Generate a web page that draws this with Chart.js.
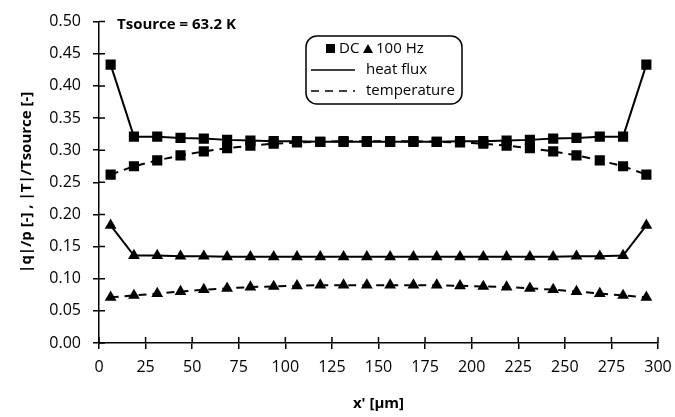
<!DOCTYPE html>
<html>
<head>
<meta charset="utf-8">
<script src="https://cdn.jsdelivr.net/npm/chart.js@4/dist/chart.umd.min.js"></script>
<style>
  html, body { margin: 0; padding: 0; background: #fff; }
  #wrap { width: 675px; height: 417px; }
</style>
</head>
<body>
<div id="wrap"><canvas id="chart" width="675" height="417"></canvas></div>
<script>
// positions along x' [µm]
const xPos = [6.25, 18.75, 31.25, 43.75, 56.25, 68.75, 81.25, 93.75, 106.25, 118.75, 131.25, 143.75,
              156.25, 168.75, 181.25, 193.75, 206.25, 218.75, 231.25, 243.75, 256.25, 268.75, 281.25, 293.75];

const dcHeatFlux = [0.433, 0.321, 0.321, 0.319, 0.318, 0.316, 0.315, 0.314, 0.314, 0.313, 0.313, 0.313,
                    0.313, 0.313, 0.313, 0.314, 0.314, 0.315, 0.316, 0.318, 0.319, 0.321, 0.321, 0.433];
const dcTemp = [0.262, 0.275, 0.284, 0.292, 0.298, 0.303, 0.307, 0.310, 0.312, 0.313, 0.314, 0.314,
                0.314, 0.314, 0.313, 0.312, 0.310, 0.307, 0.303, 0.298, 0.292, 0.284, 0.275, 0.262];
const hzHeatFlux = [0.183, 0.136, 0.136, 0.135, 0.135, 0.134, 0.134, 0.134, 0.134, 0.134, 0.134, 0.134,
                    0.134, 0.134, 0.134, 0.134, 0.134, 0.134, 0.134, 0.134, 0.135, 0.135, 0.136, 0.183];
const hzTemp = [0.071, 0.074, 0.077, 0.080, 0.083, 0.085, 0.087, 0.088, 0.089, 0.090, 0.090, 0.090,
                0.090, 0.090, 0.090, 0.089, 0.088, 0.087, 0.085, 0.083, 0.080, 0.077, 0.074, 0.071];

const yTitle = '|q|/p [-] , |T|/Tsource [-]';
const xTitle = "x' [\u00b5m]";
const noteText = 'Tsource = 63.2 K';

const FONT = "'Open Sans', 'Noto Sans', sans-serif";

function pts(vals) {
    return vals.map((v, i) => ({ x: xPos[i], y: v }));
}

function series(label, vals, shape, dashed) {
    return {
        label: label,
        data: pts(vals),
        borderColor: '#000',
        backgroundColor: '#000',
        borderWidth: 2,
        borderDash: dashed ? [8, 6] : [],
        pointStyle: shape,
        pointRadius: shape == 'rect' ? 7.2 : 6.8,
        pointBorderWidth: 0,
        tension: 0
    };
}

// ticks that cross the axis, legend box and note drawn by hand
const extras = {
    id: 'extras',
    afterDraw(chart) {
        const ctx = chart.ctx;
        const a = chart.chartArea;
        const sx = chart.scales.x, sy = chart.scales.y;
        ctx.save();
        ctx.strokeStyle = '#000';
        ctx.lineWidth = 1.5;
        ctx.beginPath();
        sx.ticks.forEach(t => {
            const px = sx.getPixelForValue(t.value);
            ctx.moveTo(px, a.bottom);
            ctx.lineTo(px, a.bottom - 6);
        });
        sy.ticks.forEach(t => {
            const py = sy.getPixelForValue(t.value);
            ctx.moveTo(a.left, py);
            ctx.lineTo(a.left + 6, py);
        });
        ctx.stroke();

        ctx.fillStyle = '#000';
        ctx.font = 'bold 15px ' + FONT;
        ctx.textBaseline = 'middle';
        ctx.fillText(noteText, 117, 25);

        // box
        ctx.lineWidth = 1.5;
        ctx.beginPath();
        ctx.roundRect(306, 36, 156, 68, 11);
        ctx.stroke();

        ctx.font = '15px ' + FONT;
        // row 1
        ctx.fillRect(326, 44, 9, 9);
        ctx.fillText('DC', 339, 49);
        ctx.beginPath();
        ctx.moveTo(368, 44);
        ctx.lineTo(373, 53);
        ctx.lineTo(363, 53);
        ctx.closePath();
        ctx.fill();
        ctx.fillText('100 Hz', 376, 49);
        // row 2
        ctx.beginPath();
        ctx.moveTo(311, 70);
        ctx.lineTo(355, 70);
        ctx.stroke();
        ctx.fillText('heat flux', 366, 70);
        // row 3
        ctx.setLineDash([8, 6]);
        ctx.beginPath();
        ctx.moveTo(311, 91);
        ctx.lineTo(355, 91);
        ctx.stroke();
        ctx.setLineDash([]);
        ctx.fillText('temperature', 366, 91);
        ctx.restore();
    }
};

new Chart(document.getElementById('chart'), {
    type: 'line',
    data: {
        datasets: [
            series('DC heat flux', dcHeatFlux, 'rect', false),
            series('DC temperature', dcTemp, 'rect', true),
            series('100 Hz heat flux', hzHeatFlux, 'triangle', false),
            series('100 Hz temperature', hzTemp, 'triangle', true)
        ]
    },
    options: {
        responsive: false,
        animation: false,
        layout: { padding: { left: 14, right: 17, top: 12, bottom: 0 } },
        plugins: {
            legend: { display: false },
            tooltip: { enabled: false }
        },
        scales: {
            x: {
                type: 'linear',
                min: 0,
                max: 300,
                ticks: { stepSize: 25, color: '#000', font: { family: FONT, size: 16 }, padding: 9, maxRotation: 0 },
                grid: { display: true, drawOnChartArea: false, drawTicks: true, tickLength: 6, color: '#000', lineWidth: 1.5 },
                border: { display: true, color: '#000', width: 1.5 },
                title: { display: true, text: xTitle, color: '#000', font: { family: FONT, size: 15, weight: 'bold' }, padding: { top: 8 } },
                afterFit: (s) => { s.height = 74; s.paddingRight = 0; }
            },
            y: {
                min: 0,
                max: 0.5,
                ticks: {
                    stepSize: 0.05, color: '#000', font: { family: FONT, size: 16 }, padding: 12,
                    callback: (v) => v.toFixed(2)
                },
                grid: { display: true, drawOnChartArea: false, drawTicks: true, tickLength: 6, color: '#000', lineWidth: 1.5 },
                border: { display: true, color: '#000', width: 1.5 },
                title: { display: true, text: yTitle, color: '#000', font: { family: FONT, size: 15, weight: 'bold' }, padding: { bottom: 4 } },
                afterFit: (s) => { s.width = 85; }
            }
        }
    },
    plugins: [extras]
});
</script>
</body>
</html>
